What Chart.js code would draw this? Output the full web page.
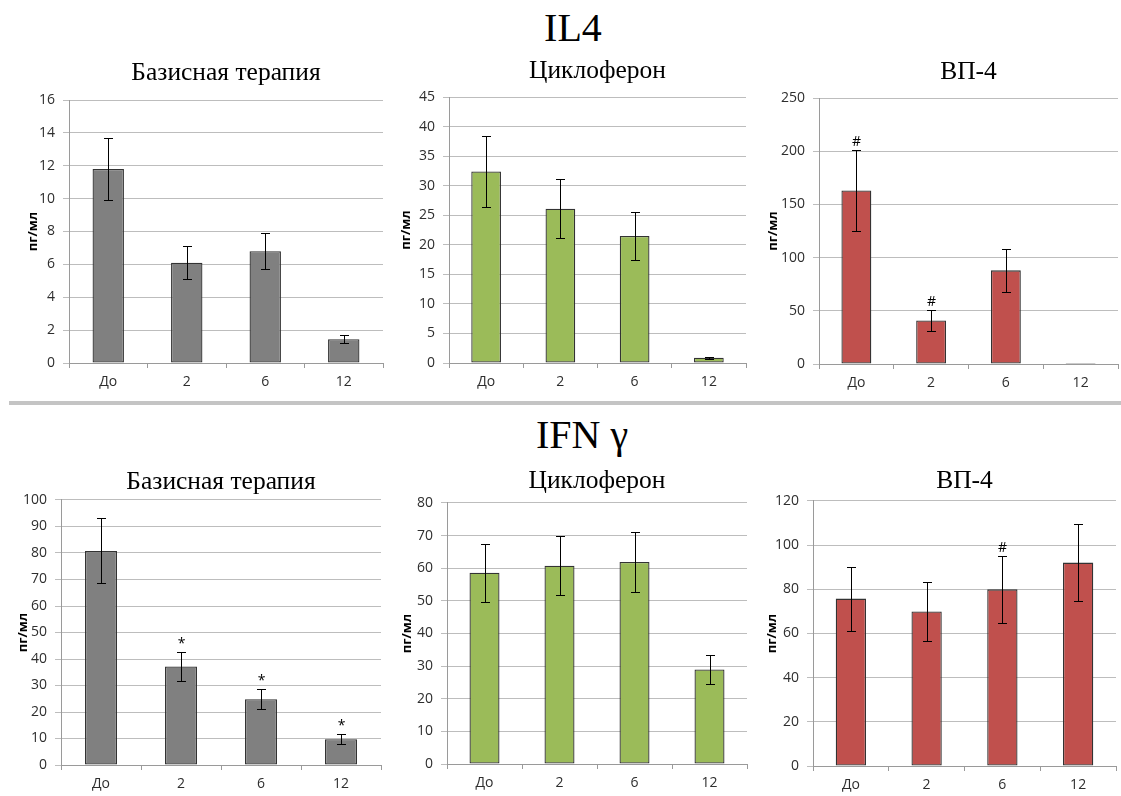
<!DOCTYPE html>
<html>
<head>
<meta charset="utf-8">
<script src="https://cdn.jsdelivr.net/npm/chart.js@4.4.1/dist/chart.umd.min.js"></script>
<style>
  body { margin: 0; background: #fff; width: 1121px; height: 796px; position: relative; overflow: hidden; }
  canvas { position: absolute; }
  .head { position: absolute; width: 300px; text-align: center; font-family: 'Liberation Serif', serif; font-size: 40px; line-height: 40px; color: #000; }
  .sep { position: absolute; left: 9px; top: 401px; width: 1112px; height: 4px; background: #c4c4c4; }
</style>
</head>
<body>
<div class="head" style="left:423px; top:8px;">IL4</div>
<div class="sep"></div>
<div class="head" style="left:432px; top:415px;">IFN γ</div>
<canvas id="c1"></canvas>
<canvas id="c2"></canvas>
<canvas id="c3"></canvas>
<canvas id="c4"></canvas>
<canvas id="c5"></canvas>
<canvas id="c6"></canvas>
<script>
// сроки наблюдения
const categories = ['До', '2', '6', '12'];

// IL4, пг/мл (среднее и ошибка)
const il4Basic = [11.8, 6.1, 6.8, 1.45];
const il4BasicErr = [1.9, 1.0, 1.1, 0.24];
const il4Cyclo = [32.4, 26.1, 21.5, 0.9];
const il4CycloErr = [6.0, 5.0, 4.1, 0.15];
const il4Vp = [163, 41, 88, 1];
const il4VpErr = [38, 10, 20, 0];
const il4VpMarks = ['#', '#', '', ''];

// IFN gamma, пг/мл
const ifnBasic = [80.8, 37.2, 24.8, 9.7];
const ifnBasicErr = [12.3, 5.5, 3.7, 1.9];
const ifnBasicMarks = ['', '*', '*', '*'];
const ifnCyclo = [58.6, 60.8, 61.9, 29];
const ifnCycloErr = [8.9, 9.1, 9.2, 4.5];
const ifnVp = [75.8, 70, 80, 92.1];
const ifnVpErr = [14.5, 13.2, 15.2, 17.5];
const ifnVpMarks = ['', '', '#', ''];

const yMax = [16, 45, 250, 100, 80, 120];
const yStep = [2, 5, 50, 10, 10, 20];

const gray = '#808080', green = '#9BBB59', red = '#C0504D';

Chart.defaults.font.family = "'Open Sans', sans-serif";
Chart.defaults.font.size = 14;
Chart.defaults.color = '#2e2e2e';

// усы ошибок и значки достоверности
const errorBars = {
  id: 'errorBars',
  afterDatasetsDraw(chart) {
    const ctx = chart.ctx;
    const y = chart.scales.y;
    const ds = chart.data.datasets[0];
    const meta = chart.getDatasetMeta(0);
    ctx.save();
    ctx.strokeStyle = '#000';
    ctx.lineWidth = 1;
    ctx.fillStyle = '#000';
    ctx.font = "14px 'Open Sans', sans-serif";
    ctx.textAlign = 'center';
    ctx.textBaseline = 'middle';
    meta.data.forEach((bar, i) => {
      const v = ds.data[i];
      const e = ds.errors[i];
      const top = Math.round(y.getPixelForValue(v + e)) + 0.5;
      const bot = Math.round(y.getPixelForValue(v - e)) + 0.5;
      const x = Math.round(bar.x) + 0.5;
      if (e > 0) {
        ctx.beginPath();
        ctx.moveTo(x, top); ctx.lineTo(x, bot);
        ctx.moveTo(x - 4.5, top); ctx.lineTo(x + 4.5, top);
        ctx.moveTo(x - 4.5, bot); ctx.lineTo(x + 4.5, bot);
        ctx.stroke();
      }
      if (ds.marks && ds.marks[i]) {
        ctx.fillText(ds.marks[i], x, top - 8);
      }
    });
    ctx.restore();
  }
};

// расположение панелей на странице
const panels = [
  { id: 'c1', title: 'Базисная терапия', data: il4Basic, err: il4BasicErr, color: gray,
    left: 18, top: 50, w: 368, h: 350, area: [69, 100, 383, 363], titleY: 73, yTitleX: 33 },
  { id: 'c2', title: 'Циклоферон', data: il4Cyclo, err: il4CycloErr, color: green,
    left: 390, top: 50, w: 360, h: 350, area: [449, 97, 746, 363], titleY: 71, yTitleX: 406 },
  { id: 'c3', title: 'ВП-4', data: il4Vp, err: il4VpErr, marks: il4VpMarks, color: red,
    left: 760, top: 50, w: 361, h: 350, area: [819, 98, 1118, 364], titleY: 72.5, yTitleX: 773 },
  { id: 'c4', title: 'Базисная терапия', data: ifnBasic, err: ifnBasicErr, marks: ifnBasicMarks, color: gray,
    left: 12, top: 455, w: 374, h: 341, area: [61, 500, 381, 765], titleY: 482, yTitleX: 23 },
  { id: 'c5', title: 'Циклоферон', data: ifnCyclo, err: ifnCycloErr, color: green,
    left: 390, top: 455, w: 360, h: 341, area: [447, 503, 747, 764], titleY: 481, yTitleX: 407 },
  { id: 'c6', title: 'ВП-4', data: ifnVp, err: ifnVpErr, marks: ifnVpMarks, color: red,
    left: 760, top: 455, w: 361, h: 341, area: [813, 501, 1116, 766], titleY: 481, yTitleX: 772 }
];

panels.forEach((p, k) => {
  const cv = document.getElementById(p.id);
  cv.width = p.w; cv.height = p.h;
  cv.style.left = p.left + 'px';
  cv.style.top = p.top + 'px';
  const [aL, aT, aR, aB] = p.area;
  const tSize = 25.5;
  const tLine = tSize * 1.2;

  new Chart(cv, {
    type: 'bar',
    data: {
      labels: categories,
      datasets: [{
        data: p.data,
        errors: p.err,
        marks: p.marks,
        backgroundColor: p.color,
        borderColor: '#333',
        borderWidth: 1.3,
        borderSkipped: false,
        barPercentage: 0.4,
        categoryPercentage: 1
      }]
    },
    options: {
      responsive: false,
      animation: false,
      layout: { padding: { left: 0, top: 0, bottom: 0, right: p.left + p.w - aR } },
      plugins: {
        legend: { display: false },
        tooltip: { enabled: false },
        title: {
          display: true,
          text: p.title,
          fullSize: false,
          color: '#000',
          font: { family: "'Liberation Serif', serif", size: tSize, weight: 'normal' },
          padding: { top: p.titleY - tLine / 2 - p.top, bottom: aT - p.titleY - tLine / 2 }
        }
      },
      scales: {
        x: {
          grid: { offset: true, drawOnChartArea: false, tickLength: 5, color: '#9a9a9a' },
          border: { color: '#9a9a9a' },
          ticks: { padding: 6 },
          afterFit: s => { s.height = p.top + p.h - aB; }
        },
        y: {
          min: 0,
          max: yMax[k],
          ticks: { stepSize: yStep[k], padding: 8 },
          grid: { color: '#bdbdbd', tickLength: 6 },
          border: { color: '#9a9a9a' },
          title: {
            display: true,
            text: 'пг/мл',
            color: '#000',
            font: { size: 13, weight: 'bold' },
            padding: { top: p.yTitleX - p.left - 7.8, bottom: 0 }
          },
          afterFit: s => { s.width = aL - p.left; }
        }
      }
    },
    plugins: [errorBars]
  });
});
</script>
</body>
</html>
